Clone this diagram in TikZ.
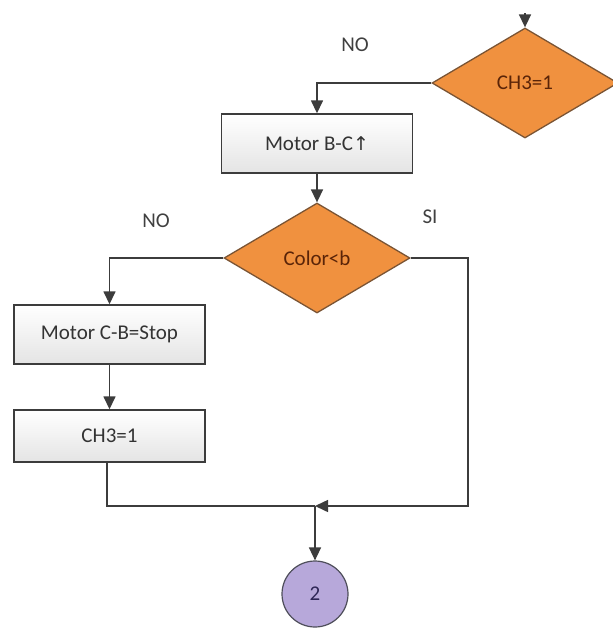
\documentclass[tikz,border=0pt]{standalone}
\usepackage{fontspec}
\setmainfont{Carlito}
\newfontfamily\symfont{DejaVu Sans}
\usetikzlibrary{shapes.geometric,arrows.meta}

\definecolor{decfill}{HTML}{F0913F}
\definecolor{decline}{HTML}{7A5434}
\definecolor{dectext}{HTML}{5A2408}
\definecolor{lineclr}{HTML}{3C3C3C}
\definecolor{boxbot}{HTML}{E4E4E4}
\definecolor{connfill}{HTML}{B7A8DA}
\definecolor{connline}{HTML}{4E4E5A}
\definecolor{conntext}{HTML}{2E2656}

\tikzset{
  txt/.style={font=\fontsize{21}{24}\selectfont},
  decision/.style={diamond, draw=decline, fill=decfill, line width=1.3pt,
    minimum width=186pt, minimum height=110pt, inner sep=0pt,
    text=dectext, txt},
  procbox/.style={rectangle, draw=lineclr, line width=1.4pt,
    top color=white, bottom color=boxbot, inner sep=0pt,
    minimum width=191pt, text=black!80, txt},
  connector/.style={circle, draw=connline, fill=connfill, line width=1.2pt,
    minimum size=66pt, inner sep=0pt, text=conntext, txt},
  flow/.style={draw=lineclr, line width=1.5pt},
  arr/.style={flow, -{Triangle[length=13pt,width=12pt]}},
  lbl/.style={text=black!75, txt}
}

\begin{document}
\begin{tikzpicture}[x=1pt,y=-1pt]
\useasboundingbox (0,0) rectangle (613,630);

% nodes
\node[decision] (d1) at (525,83) {CH3=1};
\node[procbox, minimum height=59pt] (b1) at (317,143.5) {Motor B-C{\symfont\fontsize{19}{22}\selectfont ↑}};
\node[decision] (d2) at (317,258) {Color<b};
\node[procbox, minimum height=59pt] (b2) at (109.5,334.5) {Motor C-B=Stop};
\node[procbox, minimum height=52pt] (b3) at (109.5,436) {CH3=1};
\node[connector] (c2) at (315,594) {2};

% branch labels
\node[lbl] (no1) at (355,45) {NO};
\node[lbl] (no2) at (156,221) {NO};
\node[lbl] (si) at (430,217) {SI};

% helper coordinates
\coordinate (entry) at (525,13);
\coordinate (join) at (315,506);
\coordinate (rcorner) at (468,258);
\coordinate (rbottom) at (468,506);
\coordinate (lbottom) at (107,506);

% connectors
\draw[arr] (entry) -- (d1.north);
\draw[arr] (d1.west) -| (b1.north);
\draw[arr] (b1.south) -- (d2.north);
\draw[arr] (d2.west) -| (b2.north);
\draw[arr] (b2.south) -- (b3.north);
\draw[flow] (b3.south -| lbottom) -- (lbottom) -- (join);
\draw[arr] (d2.east) -- (rcorner) -- (rbottom) -- (join);
\draw[arr] (join) -- (c2.north);
\end{tikzpicture}
\end{document}
